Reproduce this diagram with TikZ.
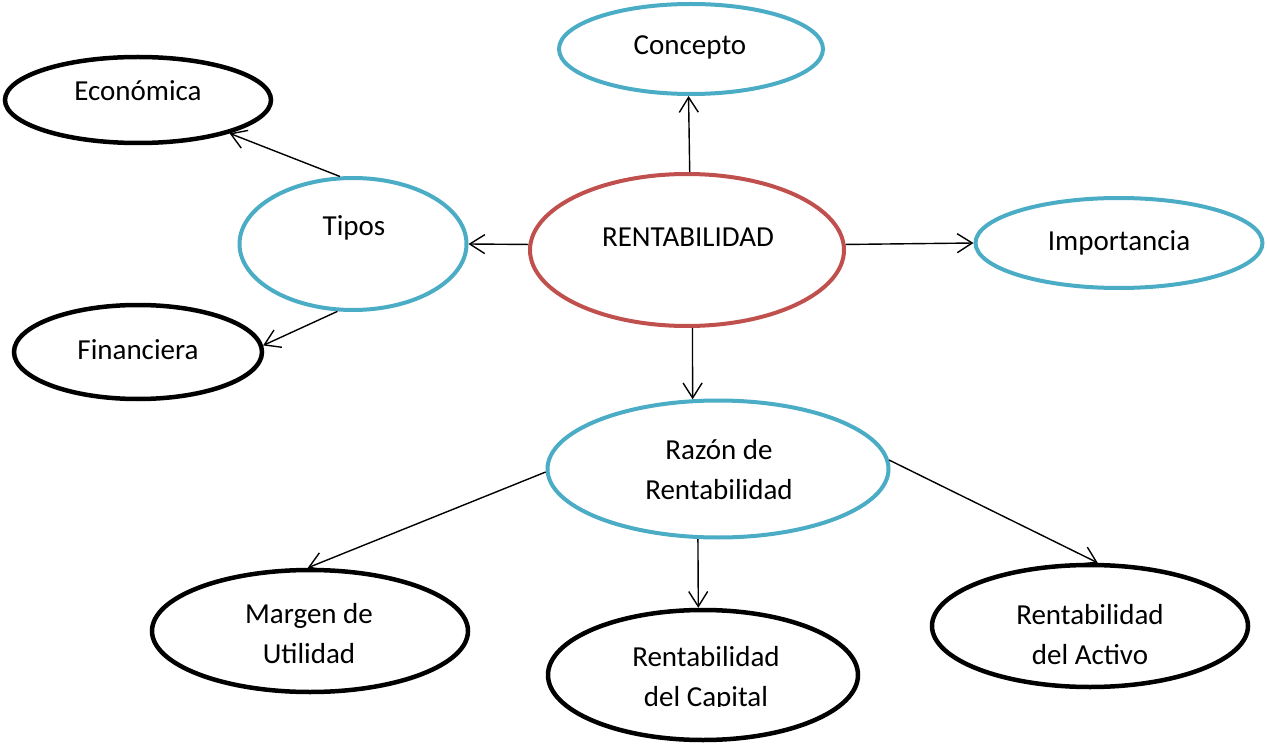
\documentclass[tikz,border=0pt]{standalone}
\usepackage{fontspec}
\setmainfont{Carlito}
\usetikzlibrary{shapes.geometric,arrows.meta}
\definecolor{topicblue}{HTML}{4BACC6}
\definecolor{rootred}{HTML}{C0504D}
\tikzset{
  bubble/.style={ellipse, draw, line width=4pt, inner sep=0pt, fill=white},
  bluebubble/.style={bubble, draw=topicblue},
  redbubble/.style={bubble, draw=rootred},
  blackbubble/.style={bubble, draw=black, line width=4.5pt},
  label text/.style={font=\fontsize{29}{40}\selectfont, align=center, inner sep=0pt},
  link/.style={line width=1.4pt, -{Straight Barb[length=15pt,width=19pt,line width=1.4pt]}}
}
\begin{document}
\begin{tikzpicture}[x=1pt,y=-1pt]
\useasboundingbox (0,0) rectangle (1267,746);

% ellipses: centre, full width, full height
\node[bluebubble, minimum width=264pt, minimum height=90pt] (concepto) at (691,49) {};
\node[blackbubble, minimum width=266pt, minimum height=86pt] (economica) at (138,100) {};
\node[bluebubble, minimum width=227pt, minimum height=132pt] (tipos) at (353,244) {};
\node[redbubble, minimum width=314pt, minimum height=152pt] (rent) at (687,250) {};
\node[bluebubble, minimum width=287pt, minimum height=90pt] (importancia) at (1119,243) {};
\node[blackbubble, minimum width=248pt, minimum height=94pt] (financiera) at (138,352) {};
\node[bluebubble, minimum width=341pt, minimum height=137pt] (razon) at (718,469) {};
\node[blackbubble, minimum width=316pt, minimum height=122pt] (margen) at (310,631) {};
\node[blackbubble, minimum width=310pt, minimum height=130pt] (capital) at (703,675) {};
\node[blackbubble, minimum width=316pt, minimum height=122pt] (activo) at (1090,626) {};

% texts
\node[label text] (concepto-t) at (690,47) {Concepto};
\node[label text] (economica-t) at (138,91) {Económica};
\node[label text] (tipos-t) at (354,228) {Tipos};
\node[label text] (rent-t) at (688,237) {RENTABILIDAD};
\node[label text] (importancia-t) at (1119,243) {Importancia};
\node[label text] (financiera-t) at (138,350) {Financiera};
\node[label text] (razon-t) at (719,470) {Razón de\\Rentabilidad};
\node[label text] (margen-t) at (309,634) {Margen de\\Utilidad};
\begin{scope}
  \clip (540,600) rectangle (870,706);
  \node[label text] (capital-t) at (706,679) {Rentabilidad\\del Capital};
\end{scope}
\node[label text] (activo-t) at (1090,635) {Rentabilidad\\del Activo};

% connectors
\draw[link] (rent.88) -- (concepto.267);
\draw[link] (tipos.101) -- (economica.-20);
\draw[link] (tipos.257) -- (financiera.3);
\draw[link] (rent.178) -- (tipos.0);
\draw[link] (rent.2) -- (importancia.180);
\draw[link] (rent.274) -- (razon.110);
\draw[link] (razon.181) -- (margen.92);
\draw[link] (razon.254) -- (capital.94);
\draw[link] (razon.3) -- (activo.83);
\end{tikzpicture}
\end{document}
